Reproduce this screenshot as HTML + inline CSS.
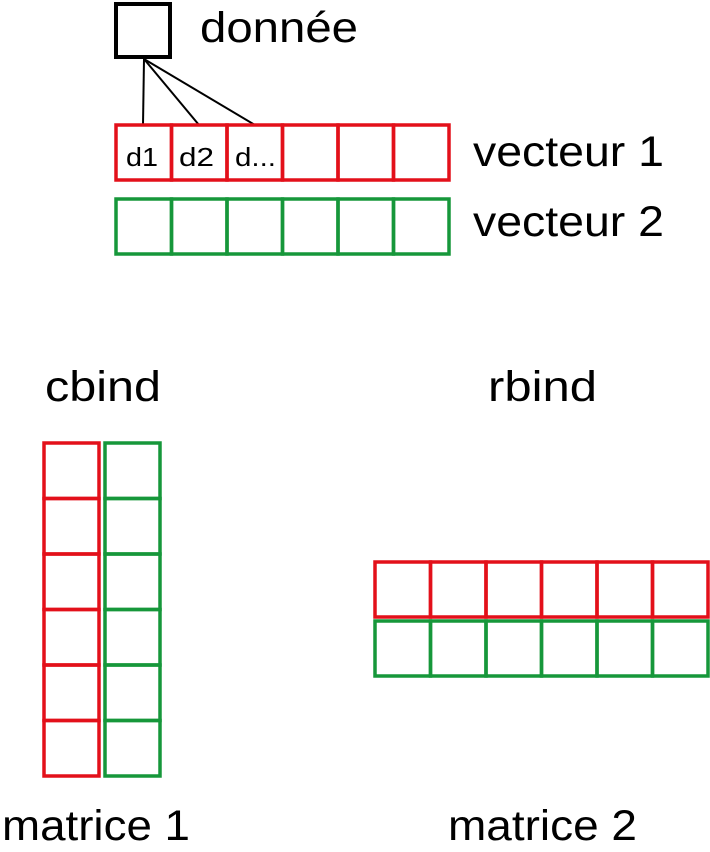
<!DOCTYPE html>
<html><head><meta charset="utf-8"><style>
html,body{margin:0;padding:0;background:#fff;width:710px;height:852px;overflow:hidden}
text{font-family:"Liberation Sans",sans-serif;fill:#000}
</style></head><body>
<svg width="710" height="852" viewBox="0 0 710 852">
<rect x="116" y="4" width="54" height="53" fill="none" stroke="#000" stroke-width="4"/>
<text x="200" y="42" font-size="43" textLength="158" lengthAdjust="spacingAndGlyphs">donnée</text>
<g stroke="#000" stroke-width="2">
<line x1="144" y1="59" x2="143" y2="125"/>
<line x1="144" y1="59" x2="199" y2="125"/>
<line x1="144" y1="59" x2="255" y2="125"/>
</g>
<g id="v1" fill="none" stroke="#e3101a" stroke-width="3.5"></g>
<g id="v2" fill="none" stroke="#16973a" stroke-width="3.5"></g>
<text x="126" y="166" font-size="26" textLength="32" lengthAdjust="spacingAndGlyphs">d1</text>
<text x="179" y="166" font-size="26" textLength="35" lengthAdjust="spacingAndGlyphs">d2</text>
<text x="235" y="166" font-size="26" textLength="41" lengthAdjust="spacingAndGlyphs">d...</text>
<text x="473" y="166" font-size="43" textLength="191" lengthAdjust="spacingAndGlyphs">vecteur 1</text>
<text x="473" y="236" font-size="43" textLength="191" lengthAdjust="spacingAndGlyphs">vecteur 2</text>
<text x="45" y="401" font-size="43" textLength="116" lengthAdjust="spacingAndGlyphs">cbind</text>
<text x="488" y="401" font-size="43" textLength="109" lengthAdjust="spacingAndGlyphs">rbind</text>
<g id="c1" fill="none" stroke="#e3101a" stroke-width="3.5"></g>
<g id="c2" fill="none" stroke="#16973a" stroke-width="3.5"></g>
<g id="r1" fill="none" stroke="#e3101a" stroke-width="3.5"></g>
<g id="r2" fill="none" stroke="#16973a" stroke-width="3.5"></g>
<text x="2" y="840" font-size="43" textLength="188" lengthAdjust="spacingAndGlyphs">matrice 1</text>
<text x="448" y="840" font-size="43" textLength="189" lengthAdjust="spacingAndGlyphs">matrice 2</text>
</svg>
<script>
const cellCount = [6];
function grid(id, x, y, w, h, n, horiz){
  const g=document.getElementById(id);
  for(let i=0;i<n;i++){
    const r=document.createElementNS('http://www.w3.org/2000/svg','rect');
    r.setAttribute('x', horiz? x+i*w : x);
    r.setAttribute('y', horiz? y : y+i*h);
    r.setAttribute('width', w);
    r.setAttribute('height', h);
    
    
    g.appendChild(r);
  }
}
const n=cellCount[0];
grid('v1',116,125,55.5,55,n,true);
grid('v2',116,199,55.5,55,n,true);
grid('c1',44,443,55,55.5,n,false);
grid('c2',105,443,55,55.5,n,false);
grid('r1',375,562,55.5,55,n,true);
grid('r2',375,621,55.5,55,n,true);
</script>
</body></html>
